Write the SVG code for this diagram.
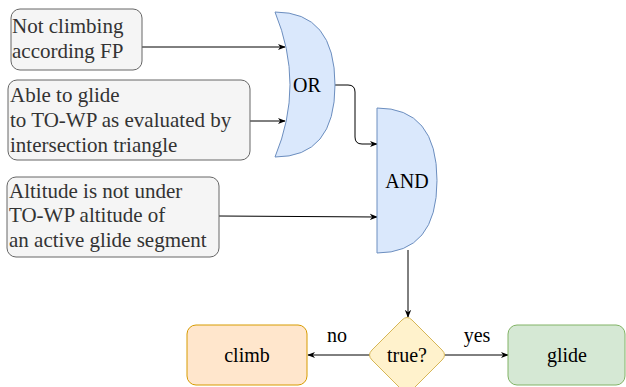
<svg xmlns="http://www.w3.org/2000/svg" width="626" height="387" viewBox="0 0 626 387">
<defs>
<marker id="arr" viewBox="0 0 10 10" refX="9" refY="5" markerWidth="8" markerHeight="8" orient="auto" markerUnits="userSpaceOnUse">
<path d="M0,1 L10,5 L0,9 L3,5 Z" fill="#000"/>
</marker>
</defs>
<style>
.in{fill:#f5f5f5;stroke:#666666;stroke-width:1}
.gate{fill:#dae8fc;stroke:#6c8ebf;stroke-width:1}
.edge{fill:none;stroke:#000;stroke-width:1;marker-end:url(#arr)}
</style>
<rect width="626" height="387" fill="#fff"/>
<g id="connectors">
<path class="edge" d="M142,47 L285,47"/>
<path class="edge" d="M250,121 L285,121"/>
<path class="edge" d="M335,85 L348,85 Q355,85 355,92 L355,137 Q355,144 362,144 L377,144"/>
<path class="edge" d="M219,216 L377,217"/>
<path class="edge" d="M408,250 L408,317"/>
<path class="edge" d="M370,355 L308,355"/>
<path class="edge" d="M445,355 L508,355"/>
</g>
<g font-family="Liberation Serif, Times New Roman, DejaVu Serif, serif" font-size="20" fill="#000">
<g id="edge-labels" text-anchor="middle">
<text x="337" y="342">no</text>
<text x="477" y="342">yes</text>
</g>
<g id="n1">
<rect class="in" x="11" y="9" width="131" height="61" rx="9"/>
<text fill="#333333" font-size="21" x="12" y="33">Not climbing</text>
<text fill="#333333" font-size="21" x="12" y="58">according FP</text>
</g>
<g id="n2">
<rect class="in" x="8" y="80" width="242" height="80" rx="9"/>
<text fill="#333333" font-size="21" x="10" y="102">Able to glide</text>
<text fill="#333333" font-size="21" x="10" y="127">to TO-WP as evaluated by</text>
<text fill="#333333" font-size="21" x="10" y="152">intersection triangle</text>
</g>
<g id="n3">
<rect class="in" x="7" y="177" width="212" height="80" rx="9"/>
<text fill="#333333" font-size="21" x="9" y="198">Altitude is not under</text>
<text fill="#333333" font-size="21" x="9" y="222">TO-WP altitude of</text>
<text fill="#333333" font-size="21" x="9" y="247">an active glide segment</text>
</g>
<g id="or">
<path class="gate" d="M275,12 Q335,12 335,85 Q335,157 275,157 Q305,85 275,12 Z"/>
<text text-anchor="middle" x="307" y="92">OR</text>
</g>
<g id="and">
<path class="gate" d="M377,108 Q437,108 437,180.5 Q437,253 377,253 Z"/>
<text text-anchor="middle" x="407" y="188">AND</text>
</g>
<g id="decision">
<path d="M402,320 Q407,315 412,320 L442,350 Q447,355 442,360 L412,390 Q407,395 402,390 L372,360 Q367,355 372,350 Z" fill="#fff2cc" stroke="#d6b656"/>
<text text-anchor="middle" x="407" y="362">true?</text>
</g>
<g id="climb">
<rect x="187" y="325" width="120" height="60" rx="9" fill="#ffe6cc" stroke="#d79b00"/>
<text text-anchor="middle" x="247" y="362">climb</text>
</g>
<g id="glide">
<rect x="508" y="325" width="117" height="60" rx="9" fill="#d5e8d4" stroke="#82b366"/>
<text text-anchor="middle" x="567" y="362">glide</text>
</g>
</g>
</svg>
